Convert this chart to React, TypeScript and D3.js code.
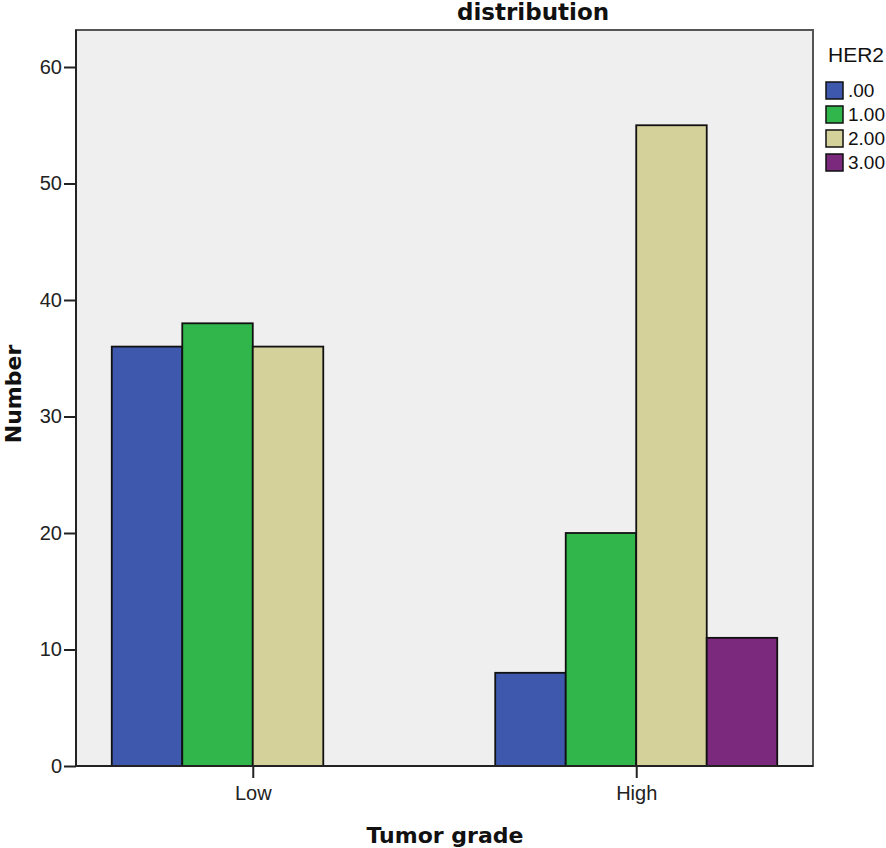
import { useRef, useEffect } from "react";
import * as d3 from "d3";

const WIDTH = 886;
const HEIGHT = 848;
const PLOT = { left: 76, right: 813, top: 30, bottom: 766 };

const categories = ["Low", "High"];
const her2Keys = [".00", "1.00", "2.00", "3.00"];
const her2Colors = ["#3d58ad", "#30b64b", "#d5d19b", "#7b297c"];
const lowValues = [36, 38, 36, 0];
const highValues = [8, 20, 55, 11];
const yTicks = [0, 10, 20, 30, 40, 50, 60];

const TICK_FONT = "'Liberation Sans', Arial, sans-serif";
const BOLD_FONT = "'DejaVu Sans', Verdana, sans-serif";

export default function App() {
  const svgRef = useRef<SVGSVGElement>(null);

  useEffect(() => {
    const svg = d3.select(svgRef.current);
    svg.selectAll("*").remove();

    const rows = [lowValues, highValues];

    const y = d3.scaleLinear().domain([0, 60]).range([PLOT.bottom, 67]);
    const x0 = d3.scalePoint<string>().domain(categories).range([PLOT.left, PLOT.right]).padding(0.461);
    const groupW = 282;
    const x1 = d3.scaleBand<string>().domain(her2Keys).range([-groupW / 2, groupW / 2]).padding(0);

    // plot background + frame
    svg.append("rect")
      .attr("x", PLOT.left).attr("y", PLOT.top)
      .attr("width", PLOT.right - PLOT.left).attr("height", PLOT.bottom - PLOT.top)
      .attr("fill", "#efefef")
      .attr("stroke", "#555").attr("stroke-width", 2);

    // bars
    categories.forEach((cat, ci) => {
      const g = svg.append("g").attr("transform", `translate(${x0(cat)},0)`);
      her2Keys.forEach((k, ki) => {
        const v = rows[ci][ki];
        if (!v) return;
        g.append("rect")
          .attr("x", x1(k)!)
          .attr("y", y(v))
          .attr("width", x1.bandwidth())
          .attr("height", y(0) - y(v))
          .attr("fill", her2Colors[ki])
          .attr("stroke", "#111")
          .attr("stroke-width", 1.8);
      });
    });

    // y axis
    const ya = svg.append("g")
      .attr("transform", `translate(${PLOT.left},0)`)
      .call(d3.axisLeft(y).tickValues(yTicks).tickSize(12).tickPadding(2).tickFormat(d3.format("d")));
    ya.select(".domain").attr("d", `M0,${PLOT.top}V${PLOT.bottom}`).attr("stroke", "#222").attr("stroke-width", 2);
    ya.selectAll("line").attr("stroke", "#222").attr("stroke-width", 2);
    ya.selectAll("text").attr("font-family", TICK_FONT).attr("font-size", "20px").attr("fill", "#222");

    // x axis
    const xa = svg.append("g")
      .attr("transform", `translate(0,${PLOT.bottom})`)
      .call(d3.axisBottom(x0).tickSize(12).tickPadding(8));
    xa.select(".domain").attr("d", `M${PLOT.left},0H${PLOT.right}`).attr("stroke", "#222").attr("stroke-width", 2);
    xa.selectAll("line").attr("stroke", "#222").attr("stroke-width", 2);
    xa.selectAll("text").attr("font-family", TICK_FONT).attr("font-size", "20px").attr("fill", "#222");

    // titles
    svg.append("text")
      .attr("x", 533).attr("y", 20)
      .attr("text-anchor", "middle")
      .attr("font-family", BOLD_FONT).attr("font-weight", "bold").attr("font-size", "23px")
      .attr("fill", "#111")
      .text("distribution");

    svg.append("text")
      .attr("transform", `translate(21,394) rotate(-90)`)
      .attr("text-anchor", "middle")
      .attr("font-family", BOLD_FONT).attr("font-weight", "bold").attr("font-size", "22px")
      .attr("fill", "#111")
      .text("Number");

    svg.append("text")
      .attr("x", 445).attr("y", 843)
      .attr("text-anchor", "middle")
      .attr("font-family", BOLD_FONT).attr("font-weight", "bold").attr("font-size", "22px")
      .attr("fill", "#111")
      .text("Tumor grade");

    // legend
    const lg = svg.append("g").attr("transform", "translate(826,0)");
    lg.append("text")
      .attr("x", 2).attr("y", 62)
      .attr("font-family", TICK_FONT).attr("font-size", "21px").attr("fill", "#111")
      .text("HER2");
    her2Keys.forEach((k, i) => {
      const yy = 82 + i * 24;
      lg.append("rect")
        .attr("x", 0).attr("y", yy)
        .attr("width", 17).attr("height", 17)
        .attr("fill", her2Colors[i])
        .attr("stroke", "#111").attr("stroke-width", 1.5);
      lg.append("text")
        .attr("x", 22).attr("y", yy + 15)
        .attr("font-family", TICK_FONT).attr("font-size", "19px").attr("fill", "#111")
        .text(k);
    });
  }, []);

  return (
    <>
      <style>{`body{margin:0;background:#fff}`}</style>
      <svg ref={svgRef} width={WIDTH} height={HEIGHT} viewBox={`0 0 ${WIDTH} ${HEIGHT}`} style={{ display: "block" }} />
    </>
  );
}
